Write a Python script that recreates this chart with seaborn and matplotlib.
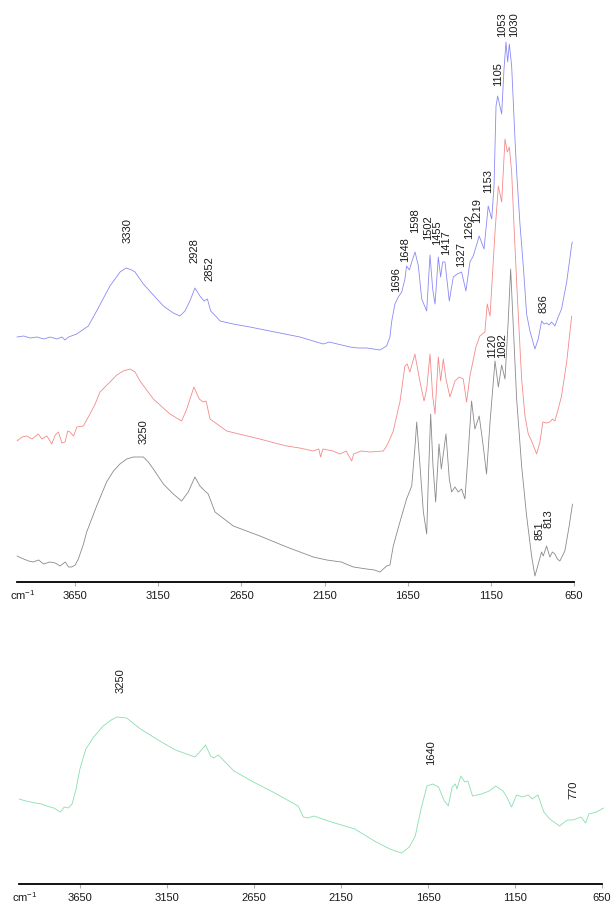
import matplotlib
matplotlib.use("Agg")
import matplotlib.pyplot as plt
import numpy as np
import pandas as pd
import seaborn as sns

# ---------------------------------------------------------------------------
# FTIR spectra (wavenumber in cm-1, intensity in arbitrary units, offset for
# stacking). Upper panel: three samples; lower panel: one sample.
# ---------------------------------------------------------------------------
blue_wn = [4000, 3960, 3920, 3880, 3840, 3800, 3760, 3730, 3711, 3690, 3641, 3571,
           3521, 3441, 3380, 3344, 3310, 3290, 3240, 3180, 3120, 3060, 3020, 2990,
           2960, 2930, 2900, 2875, 2855, 2835, 2800, 2779, 2700, 2599, 2450, 2298,
           2158, 2120, 2098, 1997, 1950, 1897, 1817, 1777, 1757, 1747, 1727, 1707,
           1686, 1667, 1657, 1640, 1626, 1606, 1586, 1566, 1536, 1516, 1500, 1486,
           1466, 1452, 1440, 1426, 1400, 1376, 1352, 1326, 1300, 1276, 1256, 1220,
           1191, 1166, 1145, 1131, 1119, 1109, 1085, 1071, 1059, 1049, 1039, 1025,
           1005, 995, 975, 955, 935, 915, 885, 865, 845, 830, 815, 800, 785, 765,
           745, 725, 694, 664, 660]
blue_int = [245, 246, 244, 245, 243, 245, 243, 245, 242, 245, 248, 256,
            271, 296, 310, 314, 312, 310, 298, 287, 276, 269, 266, 271,
            281, 294, 286, 281, 283, 271, 265, 261, 258, 255, 250, 245,
            238, 240, 239, 235, 234, 234, 232, 236, 245, 260, 278, 285,
            290, 303, 316, 312, 320, 330, 316, 283, 271, 327, 293, 278,
            325, 305, 320, 320, 281, 305, 308, 310, 291, 320, 326, 346,
            333, 376, 363, 396, 476, 486, 468, 513, 540, 520, 538, 516,
            443, 410, 358, 316, 268, 251, 233, 243, 261, 258, 259, 257, 260, 256,
            265, 273, 300, 337, 340]

red_wn = [4000, 3970, 3942, 3910, 3872, 3850, 3820, 3791, 3770, 3751, 3730, 3711,
          3695, 3681, 3660, 3640, 3601, 3561, 3530, 3501, 3441, 3400, 3361, 3320,
          3290, 3260, 3180, 3080, 3010, 2979, 2936, 2904, 2880, 2863, 2839, 2739,
          2640, 2539, 2450, 2378, 2300, 2218, 2185, 2174, 2160, 2100, 2057, 2020,
          1987, 1975, 1930, 1877, 1797, 1777, 1757, 1737, 1707, 1697, 1667, 1653,
          1637, 1607, 1576, 1552, 1536, 1516, 1500, 1486, 1466, 1452, 1436, 1420,
          1396, 1366, 1340, 1316, 1296, 1276, 1240, 1216, 1186, 1172, 1155, 1125,
          1105, 1085, 1065, 1051, 1039, 1025, 1010, 990, 965, 945, 925, 905, 875,
          855, 837, 815, 795, 780, 765, 745, 725, 694, 664]
red_int = [141, 145, 146, 143, 148, 143, 146, 138, 147, 150, 139, 140,
           151, 150, 146, 155, 156, 168, 178, 190, 200, 207, 211, 213,
           210, 201, 183, 168, 161, 173, 195, 183, 180, 181, 163, 151,
           147, 143, 139, 136, 134, 131, 133, 125, 133, 131, 128, 131,
           121, 128, 131, 130, 131, 136, 143, 151, 173, 180, 216, 218,
           210, 228, 200, 181, 193, 228, 186, 168, 225, 201, 223, 203,
           185, 201, 205, 203, 180, 206, 235, 246, 250, 278, 266, 350,
           396, 380, 443, 430, 435, 410, 353, 283, 203, 166, 148, 141, 128,
           140, 160, 159, 160, 163, 161, 173, 186, 220, 266]

black_wn = [4000, 3960, 3930, 3902, 3870, 3840, 3802, 3770, 3741, 3710, 3690, 3671,
            3650, 3631, 3600, 3581, 3521, 3461, 3420, 3381, 3340, 3300, 3240, 3210,
            3180, 3120, 3060, 3010, 2970, 2930, 2900, 2870, 2850, 2809, 2699, 2539,
            2378, 2218, 2137, 2050, 1977, 1897, 1850, 1817, 1777, 1757, 1737, 1697,
            1657, 1626, 1606, 1596, 1576, 1556, 1536, 1526, 1512, 1498, 1482, 1462,
            1448, 1420, 1400, 1386, 1366, 1346, 1326, 1306, 1286, 1266, 1246, 1220,
            1196, 1176, 1155, 1125, 1105, 1085, 1065, 1046, 1031, 1018, 995, 965,
            935, 905, 885, 865, 845, 835, 815, 795, 780, 765, 750, 735, 705, 679, 659]
black_int = [26, 23, 21, 20, 22, 18, 20, 19, 16, 20, 15, 15,
             17, 23, 38, 50, 76, 100, 111, 118, 123, 125, 125, 120,
             113, 98, 88, 81, 90, 105, 96, 91, 88, 70, 56, 46,
             35, 25, 22, 20, 15, 13, 12, 10, 16, 17, 36, 60,
             83, 96, 136, 160, 116, 70, 48, 103, 168, 116, 80, 138,
             113, 148, 103, 90, 95, 90, 93, 83, 130, 181, 153, 166,
             136, 108, 160, 221, 195, 217, 203, 260, 313, 266, 183, 116,
             66, 26, 6, 18, 30, 26, 36, 25, 30, 28, 23, 21, 31, 56, 78]

green_wn = [4000, 3960, 3907, 3870, 3840, 3800, 3762, 3740, 3717, 3695, 3672, 3650,
            3616, 3571, 3516, 3470, 3437, 3381, 3302, 3191, 3101, 2989, 2967, 2928,
            2899, 2882, 2855, 2821, 2765, 2653, 2541, 2396, 2366, 2339, 2306, 2205,
            2070, 1958, 1869, 1802, 1757, 1723, 1690, 1656, 1623, 1589, 1556, 1533,
            1511, 1492, 1484, 1461, 1439, 1421, 1394, 1342, 1298, 1260, 1219, 1197,
            1170, 1141, 1107, 1074, 1051, 1018, 984, 950, 894, 849, 816, 771, 744,
            726, 682, 641]
green_int = [85, 83, 81, 80, 78, 76, 72, 77, 76, 80, 95, 115,
             135, 147, 158, 164, 167, 166, 155, 143, 134, 127, 131, 139,
             128, 126, 129, 123, 113, 102, 92, 78, 67, 66, 68, 62,
             55, 43, 35, 31, 37, 48, 75, 98, 100, 97, 83, 78,
             97, 100, 95, 108, 102, 103, 88, 90, 93, 98, 93, 87,
             77, 89, 87, 89, 85, 89, 72, 65, 58, 64, 64, 67, 61,
             70, 72, 76]

# Peak annotations: label text, drawn position (cm-1) and text baseline height
blue_peaks = [3330, 2928, 2852, 1696, 1648, 1598, 1502, 1455, 1417, 1327,
              1262, 1219, 1153, 1105, 1053, 1030, 836]
blue_peak_x = [3335, 2935, 2840, 1721, 1667, 1606, 1528, 1474, 1417, 1330,
               1282, 1231, 1164, 1107, 1083, 1011, 834]
blue_peak_y = [340, 320, 302, 291, 321, 350, 343, 338, 328, 316,
               344, 360, 390, 497, 546, 546, 270]

black_peaks = [3250, 1120, 1082, 851, 813]
black_peak_x = [3239, 1140, 1083, 858, 801]
black_peak_y = [139, 225, 225, 43, 55]

green_peaks = [3250, 1640, 770]
green_peak_x = [3414, 1633, 815]
green_peak_y = [192, 120, 86]

tick_values = [3650, 3150, 2650, 2150, 1650, 1150, 650]

# ---------------------------------------------------------------------------
sns.set_theme(style="white")
plt.rcParams["font.family"] = ["Liberation Sans", "DejaVu Sans"]
plt.rcParams["mathtext.default"] = "regular"

W, H = 611, 904
fig = plt.figure(figsize=(W / 100, H / 100), dpi=100)
fig.patch.set_facecolor("white")

ax_top = fig.add_axes([17 / W, 1 - 583 / H, 557 / W, 583 / H])
ax_bot = fig.add_axes([19 / W, 1 - 885 / H, 583 / W, 245 / H])

def spectrum(ax, wn, val, color):
    df = pd.DataFrame({"wavenumber": wn, "intensity": val})
    sns.lineplot(data=df, x="wavenumber", y="intensity", ax=ax, color=color,
                 linewidth=0.6, estimator=None, clip_on=False)

spectrum(ax_top, blue_wn, blue_int, "#8a8af5")
spectrum(ax_top, red_wn, red_int, "#f58a8a")
spectrum(ax_top, black_wn, black_int, "#8a8a8a")
spectrum(ax_bot, green_wn, green_int, "#86e0ad")

def label_peaks(ax, labels, xs, ys):
    for lab, x, y in zip(labels, xs, ys):
        ax.text(x, y, str(lab), rotation=90, ha="center", va="bottom",
                fontsize=8, color="#1a1a1a")

label_peaks(ax_top, blue_peaks, blue_peak_x, blue_peak_y)
label_peaks(ax_top, black_peaks, black_peak_x, black_peak_y)
label_peaks(ax_bot, green_peaks, green_peak_x, green_peak_y)

for ax, ytop in ((ax_top, 583), (ax_bot, 245)):
    ax.set_xlim(4000, 650)
    ax.set_ylim(0, ytop)
    ax.set_xticks(tick_values)
    ax.set_xticklabels([str(t) for t in tick_values])
    ax.set_yticks([])
    ax.set_xlabel("")
    ax.set_ylabel("")
    for side in ("top", "left", "right"):
        ax.spines[side].set_visible(False)
    ax.spines["bottom"].set_color("black")
    ax.spines["bottom"].set_linewidth(1.3)
    ax.tick_params(axis="x", direction="out", length=3, width=0.8,
                   color="#b0b0b0", labelsize=8, labelcolor="#1a1a1a", pad=3,
                   bottom=True)
    ax.set_facecolor("none")

fig.text(23 / W, 1 - 595 / H, "cm$^{-1}$", ha="center", va="center",
         fontsize=8, color="#1a1a1a")
fig.text(25 / W, 1 - 897 / H, "cm$^{-1}$", ha="center", va="center",
         fontsize=8, color="#1a1a1a")

fig.savefig("out.png", dpi=100, facecolor="white")
